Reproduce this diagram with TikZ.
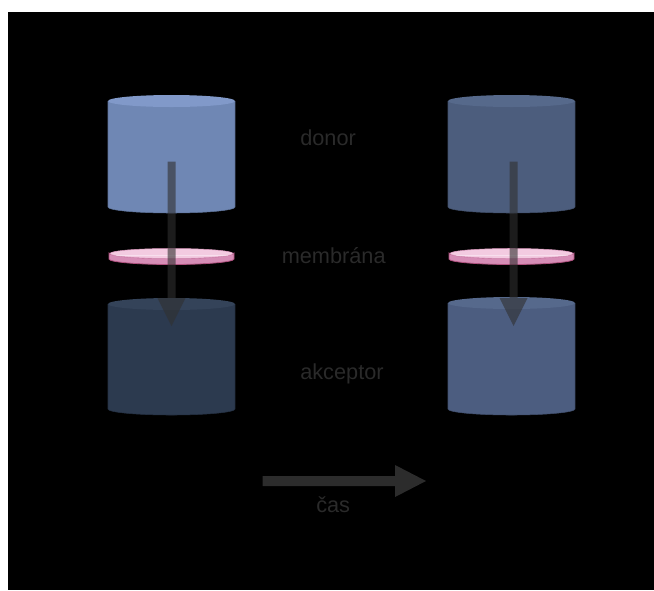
\documentclass[tikz,border=0pt]{standalone}
\usepackage{fontspec}
\setmainfont{Liberation Sans}
\usetikzlibrary{calc}

\definecolor{donorA}{HTML}{6F87B4}
\definecolor{donorAtop}{HTML}{8199C9}
\definecolor{accA}{HTML}{2C3A4F}
\definecolor{accAtop}{HTML}{344359}
\definecolor{donorB}{HTML}{4C5D7D}
\definecolor{donorBtop}{HTML}{56698B}
\definecolor{accB}{HTML}{4C5D80}
\definecolor{accBtop}{HTML}{56698C}
\definecolor{memEdge}{HTML}{D68DB6}
\definecolor{memLine}{HTML}{B0527F}
\definecolor{memTop}{HTML}{F3CBE1}
\definecolor{labelgray}{HTML}{2A2A2A}
\definecolor{timegray}{HTML}{2C2C2C}
\definecolor{flowgray}{HTML}{303030}

\tikzset{
  % vessel: body colour, top colour, body height (px)
  pics/vessel/.style n args={3}{code={
    \fill[#1] (-63.5,0) rectangle (63.5,#3);
    \fill[#1] (0,#3) ellipse[x radius=63.5, y radius=6];
    \draw[#1!85!black, line width=0.4pt] (-63.5,0) -- (-63.5,#3)
      arc[start angle=180, end angle=0, x radius=63.5, y radius=6] -- (63.5,0);
    \fill[#2] (0,0) ellipse[x radius=63.5, y radius=6];
  }},
  % thin membrane disk
  pics/disk/.style={code={
    \fill[memEdge, draw=memLine, line width=0.6pt] (-62.5,-3) -- (-62.5,3)
      arc[start angle=180, end angle=0, x radius=62.5, y radius=5.5] -- (62.5,-3)
      arc[start angle=0, end angle=180, x radius=62.5, y radius=5.5] -- cycle;
    \fill[memTop, draw=memEdge!90!white, line width=0.4pt] (0,-2.5) ellipse[x radius=61.5, y radius=5];
    \draw[white, opacity=0.4, line width=0.7pt] (-56,-0.8) -- (56,-0.8);
  }},
  flow/.style={fill=flowgray, fill opacity=0.6},
  timearrow/.style={fill=timegray},
  lbl/.style={text=labelgray, font=\fontsize{16.3pt}{18pt}\selectfont, inner sep=0pt, anchor=base west}
}

\begin{document}
\begin{tikzpicture}[x=0.75pt, y=-0.75pt]
  \useasboundingbox (0,0) rectangle (654,590);
  \fill[white] (0,0) rectangle (654,590);
  \fill[black] (8,12) rectangle (654,590);

  % vessels before
  \pic (donorL) at (171.5,101) {vessel={donorA}{donorAtop}{106}};
  \pic (accL) at (171.5,304) {vessel={accA}{accAtop}{105}};
  \pic (memL) at (171.5,256) {disk};

  % vessels after
  \pic (donorR) at (511.5,101) {vessel={donorB}{donorBtop}{106}};
  \pic (accR) at (511.5,303) {vessel={accB}{accBtop}{106}};
  \pic (memR) at (511.5,256) {disk};

  % flow arrows through the membrane
  \coordinate (dL) at (171.5,161.7);
  \coordinate (aL) at (171.5,326);
  \coordinate (dR) at (513.5,161.7);
  \coordinate (aR) at (513.5,326);
  \fill[flow] (dL) ++(-4,0) -- ++(0,136.3) -- ++(-10,0) -- (aL)
    -- ++(14,-28) -- ++(-10,0) -- ++(0,-136.3) -- cycle;
  \fill[flow] (dR) ++(-4,0) -- ++(0,136.3) -- ++(-10,0) -- (aR)
    -- ++(14,-28) -- ++(-10,0) -- ++(0,-136.3) -- cycle;

  % labels
  \node[lbl] (tDonor) at (300,145) {donor};
  \node[lbl] (tMem) at (281.5,263.3) {membrána};
  \node[lbl] (tAcc) at (300,379.3) {akceptor};

  % time arrow
  \coordinate (tS) at (262.7,481);
  \coordinate (tE) at (426,481);
  \fill[timearrow] (tS) ++(0,-5) -- ++(132.3,0) -- ++(0,-11) -- (tE)
    -- ++(-31,16) -- ++(0,-11) -- ++(-132.3,0) -- cycle;
  \node[lbl] (tCas) at (316,512.7) {čas};
\end{tikzpicture}
\end{document}
